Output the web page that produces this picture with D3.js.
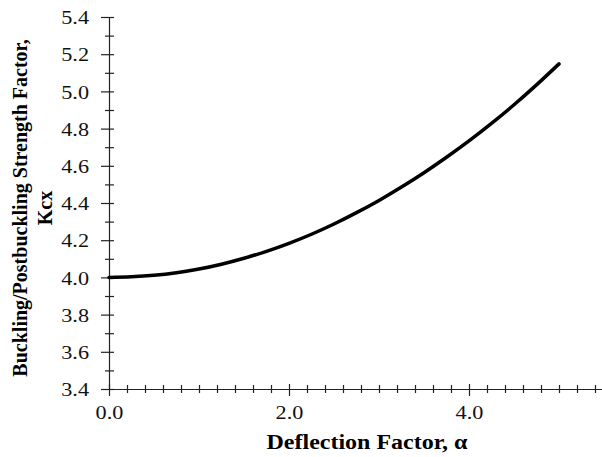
<!DOCTYPE html>
<html lang="en">
	<head>
		<meta charset="utf-8">
		<title>Kcx vs deflection factor</title>
		<script type="text/javascript" src="https://cdn.jsdelivr.net/npm/d3@7"></script>
		<style type="text/css">
			body {
				margin: 0;
				background: #fff;
			}
			.title {
				font-family: "Liberation Serif", "Times New Roman", serif;
				font-weight: bold;
				font-size: 20px;
				fill: #000;
				text-anchor: middle;
			}
		</style>
	</head>
	<body>
		<script type="text/javascript">

			//Width and height
			var w = 602;
			var h = 457;

			//values
			var alpha = [0, 0.25, 0.5, 0.75, 1.0, 1.25, 1.5, 1.75, 2.0, 2.25, 2.5,
				2.75, 3.0, 3.25, 3.5, 3.75, 4.0, 4.25, 4.5, 4.75, 5.0];
			var kcx = [4.000, 4.003, 4.011, 4.025, 4.045, 4.071, 4.103, 4.140, 4.183, 4.232, 4.287,
				4.348, 4.414, 4.486, 4.563, 4.646, 4.734, 4.828, 4.928, 5.035, 5.148];

			var xMajor = [0, 2, 4];
			var yMajor = [3.4, 3.6, 3.8, 4.0, 4.2, 4.4, 4.6, 4.8, 5.0, 5.2, 5.4];
			var yMinor = [3.5, 3.7, 3.9, 4.1, 4.3, 4.5, 4.7, 4.9, 5.1, 5.3];

			var x = d3.scaleLinear().domain([0, 5.5]).range([109, 604]);
			var y = d3.scaleLinear().domain([3.4, 5.4]).range([389, 17]);

			var xMinor = d3.range(1, 28).map(function (i) { return i * 0.2; })
				.filter(function (d) { return Math.abs(d / 2 - Math.round(d / 2)) > 0.01; });

			var svg = d3.select("body")
				.append("svg")
				.attr("width", w)
				.attr("height", h);

			//minor ticks first, crossing the axis line
			svg.append("g")
				.attr("transform", "translate(0," + y(3.4) + ")")
				.call(d3.axisBottom(x).tickValues(xMinor).tickSize(4).tickFormat(""))
				.call(function (g) { g.select(".domain").remove(); })
				.selectAll("line").attr("y1", -4);

			var xg = svg.append("g")
				.attr("transform", "translate(0," + y(3.4) + ")")
				.call(d3.axisBottom(x).tickValues(xMajor).tickSize(7).tickSizeOuter(0)
					.tickFormat(d3.format(".1f")));
			xg.selectAll("line").attr("y1", -5);
			xg.selectAll("text")
				.attr("y", null).attr("dy", null)
				.attr("transform", "translate(0,30) scale(1.14,1)");

			svg.append("g")
				.attr("transform", "translate(" + x(0) + ",0)")
				.call(d3.axisLeft(y).tickValues(yMinor).tickSize(4).tickFormat(""))
				.call(function (g) { g.select(".domain").remove(); })
				.selectAll("line").attr("x1", 5);

			var yg = svg.append("g")
				.attr("transform", "translate(" + x(0) + ",0)")
				.call(d3.axisLeft(y).tickValues(yMajor).tickSize(8).tickSizeOuter(0)
					.tickFormat(d3.format(".1f")));
			yg.selectAll("line").attr("x1", 5);
			yg.selectAll("text")
				.attr("x", null)
				.attr("dy", "0.34em")
				.attr("transform", "translate(-20,0) scale(1.14,1)");

			svg.selectAll(".tick text")
				.style("fill", "#111")
				.style("font-family", "'Liberation Serif', serif")
				.style("font-size", "19.5px");
			svg.selectAll(".tick line, .domain").attr("stroke", "#222").attr("stroke-width", 1.2);

			//the curve
			var line = d3.line()
				.x(function (d, i) { return x(alpha[i]); })
				.y(function (d) { return y(d); })
				.curve(d3.curveMonotoneX);

			svg.append("path")
				.datum(kcx)
				.attr("d", line)
				.attr("fill", "none")
				.attr("stroke", "#000")
				.attr("stroke-width", 3.5)
				.attr("stroke-linecap", "round");

			//axis titles
			svg.append("text")
				.attr("class", "title")
				.attr("transform", "translate(367,449) scale(1.2,1)")
				.text("Deflection Factor, α");

			var yt = svg.append("text")
				.attr("class", "title")
				.attr("transform", "translate(27,208) rotate(-90)");
			yt.append("tspan").attr("x", 0).attr("y", 0).text("Buckling/Postbuckling Strength Factor,");
			yt.append("tspan").attr("x", 0).attr("y", 25).text("Kcx");

		</script>
	</body>
</html>
